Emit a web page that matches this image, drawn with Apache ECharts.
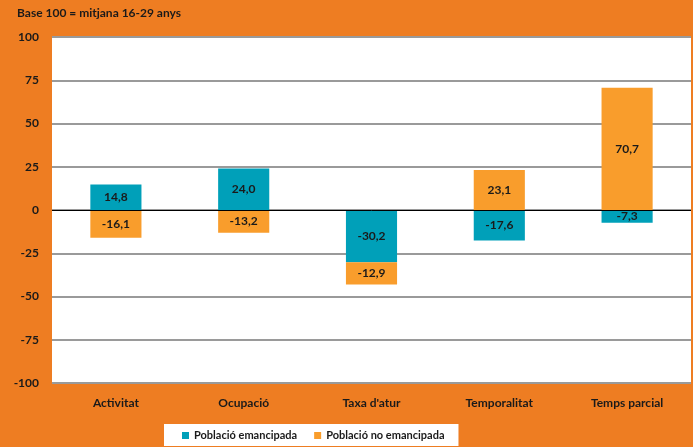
<!DOCTYPE html>
<html><head><meta charset="utf-8">
<script src="https://cdn.jsdelivr.net/npm/echarts@6/dist/echarts.min.js"></script>
<style>html,body{margin:0;padding:0;background:#EE7D22;}#c{width:693px;height:447px;}</style>
</head><body><div id="c"></div>
<script>
const categories = ["Activitat", "Ocupació", "Taxa d'atur", "Temporalitat", "Temps parcial"];
const emancipada = [14.8, 24.0, -30.2, -17.6, -7.3];
const noEmancipada = [-16.1, -13.2, -12.9, 23.1, 70.7];
const yTicks = [-100, -75, -50, -25, 0, 25, 50, 75, 100];
const seriesNames = ["Població emancipada", "Població no emancipada"];
const title = "Base 100 = mitjana 16-29 anys";

const font = "Lato, sans-serif";
const chart = echarts.init(document.getElementById('c'), null, {renderer: 'canvas'});
const lbl = {show: true, position: 'inside', color: '#1a1a1a', fontWeight: 'bold', fontSize: 12, fontFamily: font,
  formatter: p => p.value.toFixed(1).replace('.', ',')};
chart.setOption({
  backgroundColor: '#EE7D22',
  animation: false,
  title: {text: title, left: 12, top: 2, textStyle: {fontSize: 12, fontWeight: 'bold', color: '#1a1a1a', fontFamily: font}},
  grid: {left: 52, right: 2, top: 37, bottom: 64, backgroundColor: '#fff', show: true, borderWidth: 0,
         outerBoundsMode: 'none', containLabel: false},
  legend: {
    left: 164, top: 424,
    backgroundColor: '#fff', padding: [6, 14, 5, 18], itemGap: 17,
    icon: 'rect', itemWidth: 7, itemHeight: 7,
    textStyle: {fontSize: 11, fontWeight: 'bold', color: '#1a1a1a', fontFamily: font},
    data: seriesNames
  },
  xAxis: {
    type: 'category', data: categories,
    axisLine: {show: false, onZero: false},
    axisTick: {show: false},
    axisLabel: {margin: 14, fontSize: 12, fontWeight: 'bold', color: '#1a1a1a', fontFamily: font}
  },
  yAxis: {
    type: 'value', min: yTicks[0], max: yTicks[yTicks.length - 1], interval: 25,
    axisLine: {show: false}, axisTick: {show: false},
    axisLabel: {margin: 13, fontSize: 12, fontWeight: 'bold', color: '#1a1a1a', fontFamily: font},
    splitLine: {lineStyle: {color: '#9a9a9a', width: 2}}
  },
  series: [
    {name: seriesNames[0], type: 'bar', stack: 's', data: emancipada, barWidth: '40%',
     itemStyle: {color: '#00A0B9'}, label: lbl,
     markLine: {silent: true, symbol: 'none', label: {show: false}, z: 10,
       lineStyle: {color: '#000', width: 1, type: 'solid'}, data: [{yAxis: 0}]}},
    {name: seriesNames[1], type: 'bar', stack: 's', data: noEmancipada, barWidth: '40%',
     itemStyle: {color: '#F99D2C'}, label: lbl}
  ]
});
</script></body></html>
